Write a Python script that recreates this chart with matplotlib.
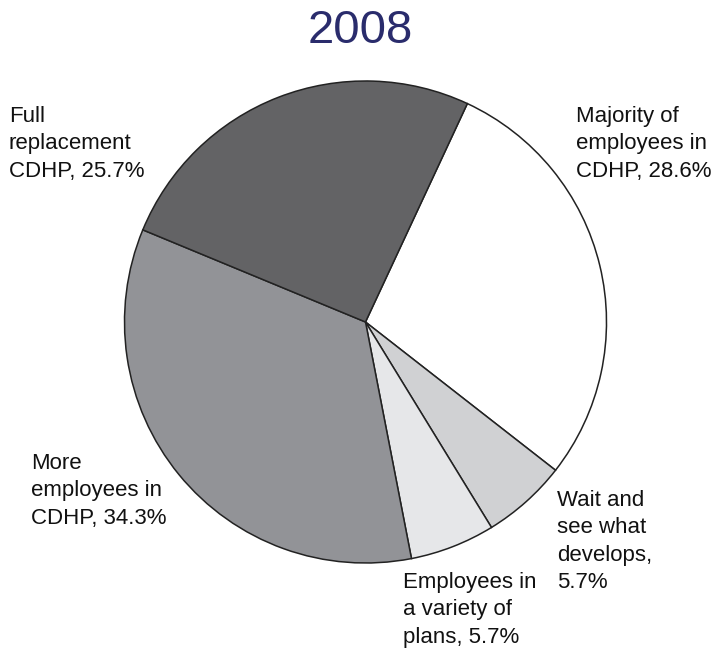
import matplotlib.pyplot as plt

plt.rcParams["font.family"] = ["Liberation Sans", "DejaVu Sans"]

# Slices listed clockwise from the top
labels = [
    "Majority of\nemployees in\nCDHP, 28.6%",
    "Wait and\nsee what\ndevelops,\n5.7%",
    "Employees in\na variety of\nplans, 5.7%",
    "More\nemployees in\nCDHP, 34.3%",
    "Full\nreplacement\nCDHP, 25.7%",
]
shares = [28.6, 5.7, 5.7, 34.3, 25.7]
colors = ["#ffffff", "#d0d1d3", "#e6e7e9", "#929397", "#636365"]

W, H = 718, 652
fig = plt.figure(figsize=(W / 100, H / 100), dpi=100)
ax = fig.add_axes([0, 0, 1, 1])

ax.pie(
    shares,
    colors=colors,
    startangle=65,
    counterclock=False,
    center=(365.5, H - 322),
    radius=241,
    frame=True,
    wedgeprops=dict(edgecolor="#222222", linewidth=1.1),
)
ax.set_xlim(0, W)
ax.set_ylim(0, H)
ax.set_aspect("equal")
ax.axis("off")

# Title
ax.text(360, H - 31, "2008", ha="center", va="center",
        fontsize=34, color="#2a2c6c")

# Slice labels (top-left corner of each text block, pixel coordinates)
label_pos = [(576, 106), (557, 490), (403, 572), (31, 453), (9, 106)]
for text, (x, y) in zip(labels, label_pos):
    ax.text(x, H - y, text, ha="left", va="top", fontsize=16,
            color="#111111", linespacing=1.40)

fig.savefig("out.png", dpi=100)
